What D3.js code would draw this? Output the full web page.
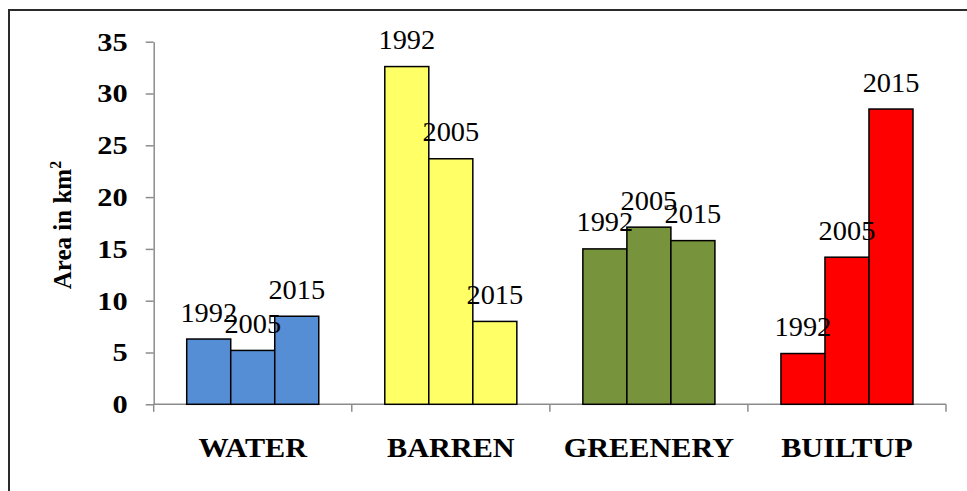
<!DOCTYPE html>
<html>
<head>
<meta charset="utf-8">
<script src="https://cdn.jsdelivr.net/npm/d3@7"></script>
<style>
  html, body { margin: 0; padding: 0; background: #fff; }
  svg { display: block; }
</style>
</head>
<body>
<svg id="chart" width="967" height="491"></svg>
<script>
const categories = ["WATER", "BARREN", "GREENERY", "BUILTUP"];
const years = ["1992", "2005", "2015"];
const values1992 = [6.3, 32.6, 15.0, 4.9];
const values2005 = [5.2, 23.7, 17.1, 14.2];
const values2015 = [8.5, 8.0, 15.8, 28.5];
const categoryColors = ["#558ed5", "#ffff66", "#77933c", "#ff0000"];
const yTicks = [0, 5, 10, 15, 20, 25, 30, 35];
const yTitle = "Area in km";

const seriesValues = [values1992, values2005, values2015];

const svg = d3.select("#chart");
const plot = { left: 153.7, right: 946, top: 41.7, bottom: 404.3 };
const serif = "'Liberation Serif', 'Times New Roman', serif";

// Outer frame (left and top visible)
svg.append("rect")
  .attr("x", 9).attr("y", 10)
  .attr("width", 1000).attr("height", 1000)
  .attr("fill", "none")
  .attr("stroke", "#2b2b2b")
  .attr("stroke-width", 2);

const x = d3.scaleBand()
  .domain(categories)
  .range([plot.left, plot.right])
  .paddingInner(1 / 3)
  .paddingOuter(1 / 6);

const xInner = d3.scaleBand()
  .domain(years)
  .range([0, x.bandwidth()]);

const y = d3.scaleLinear()
  .domain([0, 35])
  .range([plot.bottom, plot.top]);

// Y axis
const yAxis = svg.append("g")
  .attr("transform", `translate(${plot.left},0)`)
  .call(d3.axisLeft(y).tickValues(yTicks).tickSize(8).tickPadding(18).tickSizeOuter(0));
yAxis.select(".domain").attr("stroke", "#8c8c8c").attr("stroke-width", 1.5);
yAxis.selectAll(".tick line").attr("stroke", "#8c8c8c").attr("stroke-width", 1.5);
yAxis.selectAll(".tick text")
  .attr("x", 0)
  .attr("transform", "translate(-26,0) scale(1.17,1)")
  .attr("font-family", serif)
  .attr("font-weight", "bold")
  .attr("font-size", 26)
  .attr("fill", "#000");

// X axis baseline + boundary ticks
const step = x.step();
const boundaries = categories.map(c => x(c) - step * x.paddingInner() / 2)
  .concat([x(categories[categories.length - 1]) + x.bandwidth() + step * x.paddingInner() / 2]);

svg.append("line")
  .attr("x1", plot.left).attr("x2", boundaries[boundaries.length - 1])
  .attr("y1", y(0)).attr("y2", y(0))
  .attr("stroke", "#8c8c8c").attr("stroke-width", 1.5);

svg.selectAll(".xbound")
  .data(boundaries)
  .enter().append("line")
  .attr("class", "xbound")
  .attr("x1", d => d).attr("x2", d => d)
  .attr("y1", y(0)).attr("y2", y(0) + 7.5)
  .attr("stroke", "#8c8c8c").attr("stroke-width", 1.5);

// Category labels
svg.selectAll(".catlabel")
  .data(categories)
  .enter().append("text")
  .attr("class", "catlabel")
  .attr("transform", d => `translate(${x(d) + x.bandwidth() / 2},${y(0) + 53}) scale(1.12,1)`)
  .attr("text-anchor", "middle")
  .attr("font-family", serif)
  .attr("font-weight", "bold")
  .attr("font-size", 27)
  .attr("fill", "#000")
  .text(d => d);

// Bars
const barData = [];
categories.forEach((c, ci) => {
  years.forEach((yr, yi) => {
    barData.push({ cat: c, ci, year: yr, value: seriesValues[yi][ci] });
  });
});

svg.selectAll(".bar")
  .data(barData)
  .enter().append("rect")
  .attr("class", "bar")
  .attr("x", d => x(d.cat) + xInner(d.year))
  .attr("y", d => y(d.value))
  .attr("width", xInner.bandwidth())
  .attr("height", d => y(0) - y(d.value))
  .attr("fill", d => categoryColors[d.ci])
  .attr("stroke", "#000")
  .attr("stroke-width", 1.5);

// Data labels
svg.selectAll(".dlabel")
  .data(barData)
  .enter().append("text")
  .attr("class", "dlabel")
  .attr("transform", d => `translate(${x(d.cat) + xInner(d.year) + xInner.bandwidth() / 2},${y(d.value) - 17.5}) scale(1.05,1)`)
  .attr("text-anchor", "middle")
  .attr("font-family", serif)
  .attr("font-size", 27)
  .attr("fill", "#000")
  .text(d => d.year);

// Y axis title
const yt = svg.append("text")
  .attr("transform", `translate(71,${(plot.top + plot.bottom) / 2 + 2}) rotate(-90)`)
  .attr("text-anchor", "middle")
  .attr("font-family", serif)
  .attr("font-weight", "bold")
  .attr("font-size", 25)
  .attr("fill", "#000");
yt.append("tspan").text(yTitle);
yt.append("tspan").attr("font-size", 16).attr("dy", -10).text("2");
</script>
</body>
</html>
